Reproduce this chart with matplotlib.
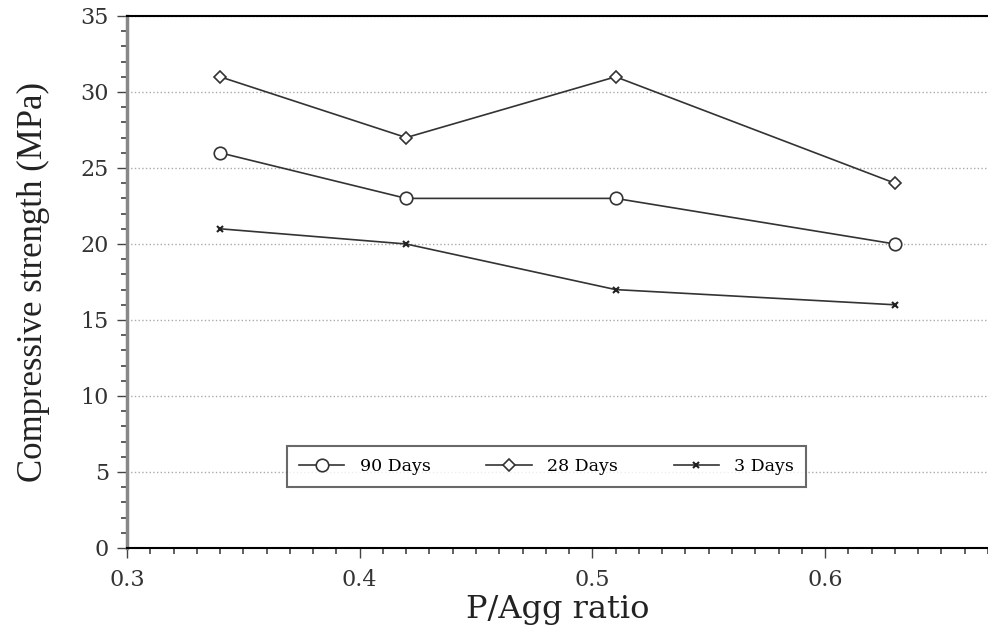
import matplotlib.pyplot as plt
from matplotlib.ticker import MultipleLocator

ratio = [0.34, 0.42, 0.51, 0.63]
days90 = [26, 23, 23, 20]
days28 = [31, 27, 31, 24]
days3 = [21, 20, 17, 16]

plt.rcParams['font.family'] = ['DejaVu Serif']

fig = plt.figure(figsize=(9.88, 6.27), dpi=100)
ax = fig.add_axes([0.1285, 0.126, 0.8715, 0.8485])

ax.plot(ratio, days90, '-', color='#333333', lw=1.2, marker='o', ms=9, mfc='white', mec='#333333', mew=1.2, label='90 Days')
ax.plot(ratio, days28, '-', color='#333333', lw=1.2, marker='D', ms=6, mfc='white', mec='#333333', mew=1.2, label='28 Days')
ax.plot(ratio, days3, '-', color='#333333', lw=1.2, marker='x', ms=5, mec='#222222', mew=1.5, label='3 Days')

ax.set_xlim(0.3, 0.67)
ax.set_ylim(0, 35)
ax.xaxis.set_major_locator(MultipleLocator(0.1))
ax.xaxis.set_minor_locator(MultipleLocator(0.01))
ax.yaxis.set_major_locator(MultipleLocator(5))
ax.yaxis.set_minor_locator(MultipleLocator(1))
ax.set_xticks([0.3, 0.4, 0.5, 0.6])
ax.set_xticklabels(['0.3', '0.4', '0.5', '0.6'])

ax.grid(axis='y', which='major', linestyle=':', color='#aaaaaa', lw=1)
ax.spines['right'].set_visible(False)
ax.spines['left'].set_color('#888888')
ax.spines['left'].set_linewidth(2.5)
ax.spines['top'].set_linewidth(1.5)
ax.spines['bottom'].set_linewidth(1.5)

ax.tick_params(axis='both', which='major', labelsize=16, colors='#444444', labelcolor='#333333', length=7, width=1)
ax.tick_params(axis='x', which='major', pad=8)
ax.tick_params(axis='y', which='major', pad=6)
ax.tick_params(axis='both', which='minor', colors='#444444', length=4, width=1.2)

ax.set_xlabel('P/Agg ratio', fontsize=23, color='#222222', labelpad=2)
ax.set_ylabel('Compressive strength (MPa)', fontsize=25, color='#222222', labelpad=22,
              family=['Liberation Serif'])

leg = ax.legend(loc='lower left', bbox_to_anchor=(0.186, 0.115), ncol=3, fontsize=12.5,
                frameon=True, fancybox=False, edgecolor='#444444', borderpad=0.7,
                borderaxespad=0, columnspacing=3.2, handlelength=2.6, handletextpad=0.9)
leg.get_frame().set_linewidth(1.5)

fig.savefig('out.png', dpi=100)
